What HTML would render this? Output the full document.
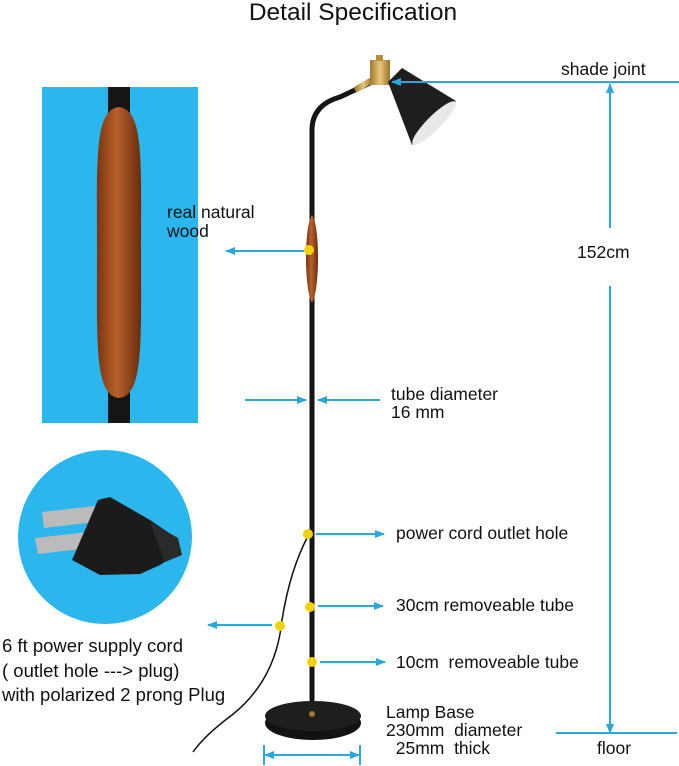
<!DOCTYPE html>
<html><head><meta charset="utf-8"><style>
html,body{margin:0;padding:0;background:#fff;}
svg{display:block;}
text{font-family:"Liberation Sans",sans-serif;fill:#111;}
</style></head><body>
<svg width="679" height="766" viewBox="0 0 679 766" xmlns="http://www.w3.org/2000/svg">
<defs>
<marker id="ah" markerWidth="10" markerHeight="8" refX="9" refY="4" orient="auto" markerUnits="userSpaceOnUse">
<path d="M0,0 L10,4 L0,8 Z" fill="#2aa8de"/></marker>
<marker id="ah2" markerWidth="10" markerHeight="8" refX="9" refY="4" orient="auto-start-reverse" markerUnits="userSpaceOnUse">
<path d="M0,0 L10,4 L0,8 Z" fill="#2aa8de"/></marker>
<linearGradient id="wood" x1="0" x2="1"><stop offset="0" stop-color="#7a3510"/><stop offset="0.45" stop-color="#b8602a"/><stop offset="1" stop-color="#6a2c0c"/></linearGradient>
<linearGradient id="brass" x1="0" x2="1"><stop offset="0" stop-color="#a07a30"/><stop offset="0.5" stop-color="#e8c77a"/><stop offset="1" stop-color="#9a7228"/></linearGradient>
</defs>
<text x="353" y="20" font-size="24.5" text-anchor="middle">Detail Specification</text>

<!-- left wood panel -->
<rect x="42" y="87" width="156" height="336" fill="#2bb6ee"/>
<rect x="108" y="87" width="22" height="336" fill="#151515"/>
<path d="M119,107 C94,110 97,160 97,250 C97,340 94,396 119,398 C144,396 141,340 141,250 C141,160 144,110 119,107 Z" fill="url(#wood)"/>

<!-- plug circle -->
<circle cx="105" cy="537" r="87" fill="#2bb6ee"/>
<path d="M42,512 L95,506 L95,522 L44,528 Z" fill="#bbb"/>
<path d="M35,538 L88,532 L90,548 L38,554 Z" fill="#bbb"/>
<path d="M98,500 L110,497 L150,520 L172,535 L180,552 L160,565 L140,574 L100,575 L72,560 Z" fill="#1b1b1b"/>
<path d="M150,522 L178,538 L182,555 L165,562 Z" fill="#2a2a2a"/>

<!-- lamp pole -->
<path d="M312,720 L312,130 Q312,105 340,97 L372,82" stroke="#151515" stroke-width="5" fill="none"/>
<path d="M312,215 C304,225 304,290 312,303 C320,290 320,225 312,215 Z" fill="url(#wood)"/>
<path d="M355,90 L372,80" stroke="url(#brass)" stroke-width="6"/>
<rect x="370" y="60" width="20" height="25" fill="url(#brass)"/>
<rect x="376" y="55" width="7" height="6" fill="#b58d3c"/>
<path d="M388,82 L402,68 L456,101 L412,145 Z" fill="#1e1e1e"/>
<ellipse cx="434" cy="123" rx="30" ry="7" transform="rotate(-45 434 123)" fill="#e8e8e8"/>

<!-- base -->
<ellipse cx="313" cy="723" rx="48" ry="17" fill="#121212"/>
<ellipse cx="313" cy="716" rx="48" ry="15" fill="#1e1e1e"/>
<circle cx="312" cy="714" r="3" fill="#a07a30"/>

<!-- cord -->
<path d="M308,536 Q290,570 282,620 Q276,680 232,715 Q205,735 193,752" stroke="#111" stroke-width="1.5" fill="none"/>

<!-- dots -->
<g fill="#f5d10a"><circle cx="309" cy="250" r="5"/><circle cx="308" cy="534" r="5"/><circle cx="310" cy="607" r="5"/><circle cx="280" cy="626" r="5"/><circle cx="312" cy="662" r="5"/></g>

<g stroke="#2aa8de" stroke-width="2" fill="none">
<line x1="304" y1="251" x2="226" y2="251" marker-end="url(#ah)"/>
<line x1="245" y1="400" x2="306" y2="400" marker-end="url(#ah)"/>
<line x1="380" y1="400" x2="318" y2="400" marker-end="url(#ah)"/>
<line x1="316" y1="534" x2="384" y2="534" marker-end="url(#ah)"/>
<line x1="318" y1="606" x2="383" y2="606" marker-end="url(#ah)"/>
<line x1="320" y1="662" x2="385" y2="662" marker-end="url(#ah)"/>
<line x1="272" y1="625" x2="208" y2="625" marker-end="url(#ah)"/>
<line x1="679" y1="82" x2="392" y2="82" marker-end="url(#ah)"/>
<line x1="610" y1="228" x2="610" y2="84" marker-end="url(#ah)"/>
<line x1="610" y1="286" x2="610" y2="733" marker-end="url(#ah)"/>
<line x1="556" y1="733" x2="677" y2="733"/>
<line x1="265" y1="755" x2="359" y2="755" marker-start="url(#ah2)" marker-end="url(#ah2)"/>
<line x1="264" y1="745" x2="264" y2="765"/>
<line x1="360" y1="745" x2="360" y2="765"/>
</g>

<g font-size="17.5">
<text x="561" y="75">shade joint</text>
<text x="577" y="258">152cm</text>
<text x="167" y="218">real natural</text>
<text x="167" y="237">wood</text>
<text x="391" y="400">tube diameter</text>
<text x="391" y="418">16 mm</text>
<text x="396" y="539">power cord outlet hole</text>
<text x="396" y="611">30cm removeable tube</text>
<text x="396" y="668">10cm&#160; removeable tube</text>
<text x="2" y="652" font-size="18.5">6 ft power supply cord</text>
<text x="2" y="677" font-size="18.5">( outlet hole ---&gt; plug)</text>
<text x="2" y="701" font-size="18.5">with polarized 2 prong Plug</text>
<text x="386" y="718">Lamp Base</text>
<text x="386" y="736">230mm&#160; diameter</text>
<text x="386" y="754">&#160;&#160;25mm&#160; thick</text>
<text x="597" y="754">floor</text>
</g>
</svg>
</body></html>
